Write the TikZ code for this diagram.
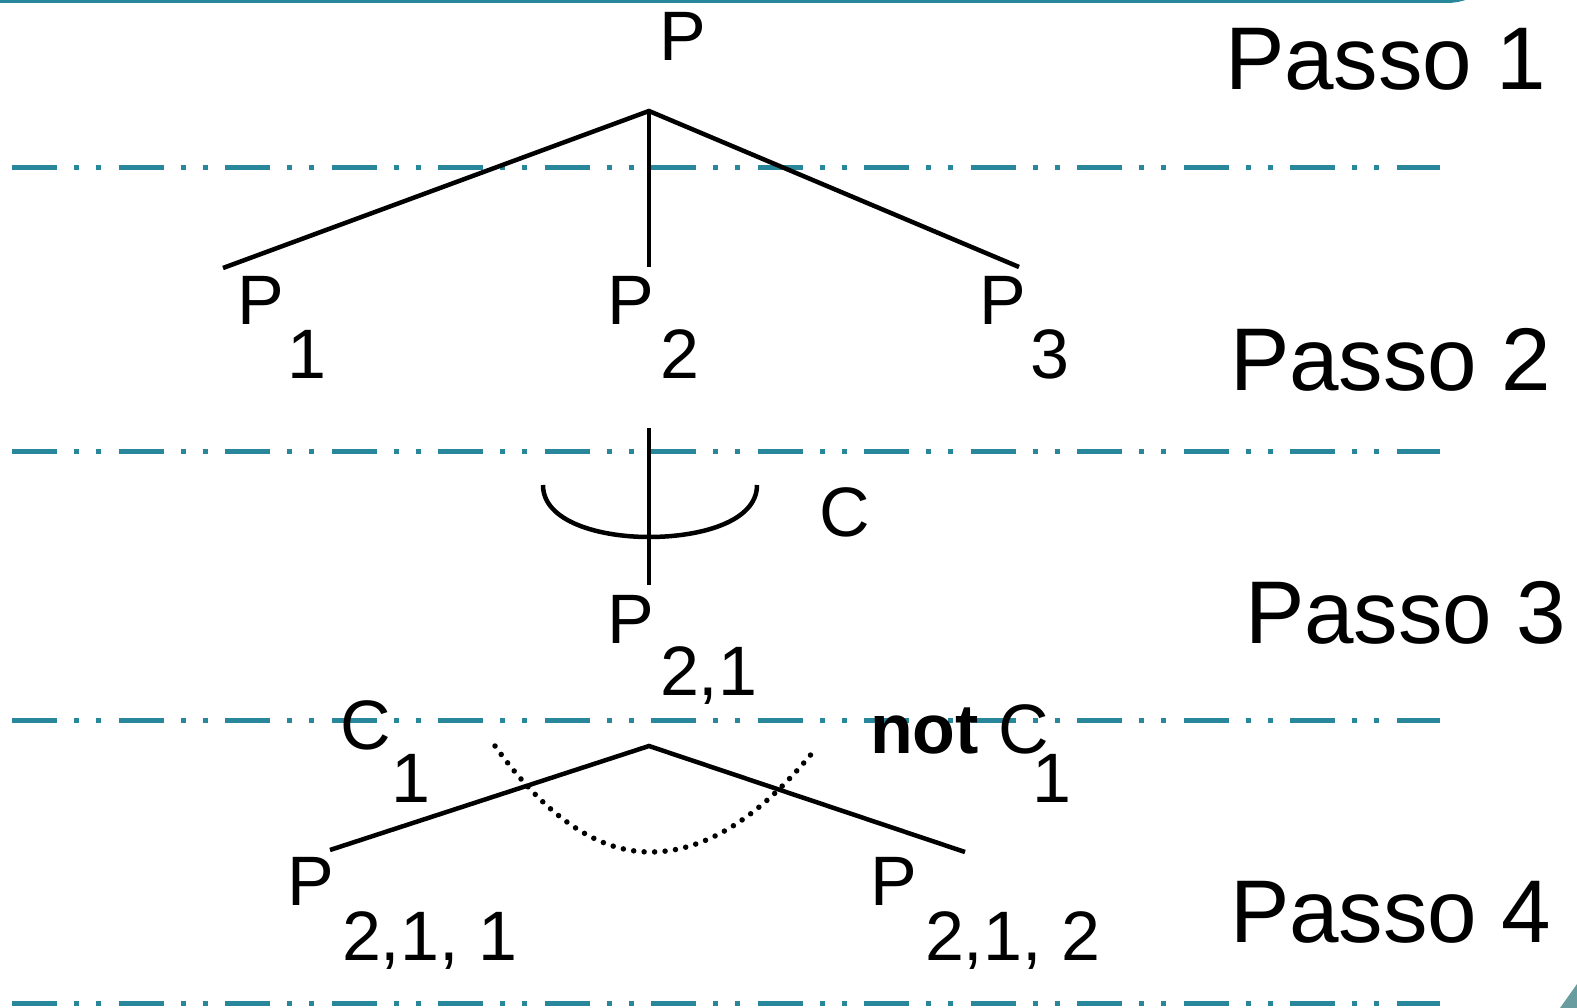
\documentclass[tikz,border=0pt]{standalone}
\usepackage{fontspec}
\setmainfont{Liberation Sans}
\definecolor{teal1}{RGB}{40,135,155}
\definecolor{teal2}{RGB}{105,156,158}
\begin{document}
\begin{tikzpicture}[x=1pt,y=-1pt,
  lbl/.style={anchor=base west,inner sep=0pt,outer sep=0pt,font=\fontsize{70}{84}\selectfont},
  passo/.style={anchor=base west,inner sep=0pt,outer sep=0pt,font=\fontsize{89}{106}\selectfont},
  sep/.style={draw=teal1,line width=5pt,dash pattern=on 45pt off 17pt on 5pt off 17pt on 5pt off 17.5pt},
  branch/.style={draw=black,line width=4.5pt},
  dotcurve/.style={draw=black,line width=5.5pt,line cap=round,dash pattern=on 0pt off 10.5pt}]
\useasboundingbox (0,0) rectangle (1577,1008);
% frame remnants
\draw[teal1,line width=4pt] (0,1) -- (1445,1) to[out=0,in=200] (1468,-3);
\fill[teal2] (1560,1008) -- (1577,984) -- (1577,1008) -- cycle;
% separators
\coordinate (s1a) at (12,168);  \coordinate (s1b) at (1440,168);
\coordinate (s2a) at (12,451);  \coordinate (s2b) at (1440,451);
\coordinate (s3a) at (12,720);  \coordinate (s3b) at (1440,720);
\coordinate (s4a) at (12,1003); \coordinate (s4b) at (1440,1003);
\draw[sep] (s1a) -- (s1b);
\draw[sep] (s2a) -- (s2b);
\draw[sep] (s3a) -- (s3b);
\draw[sep] (s4a) -- (s4b);
% step labels
\node[passo] (passo1) at (1225,90) {Passo 1};
\node[passo] (passo2) at (1230,390) {Passo 2};
\node[passo] (passo3) at (1245,643) {Passo 3};
\node[passo] (passo4) at (1230,942) {Passo 4};
% tree level 1
\node[lbl] (P) at (659,61) {P};
\coordinate (apex) at (649,111);
\coordinate (e1) at (223,268);
\coordinate (e2) at (649,267);
\coordinate (e3) at (1019,267);
\draw[branch] (e1) -- (apex) -- (e3);
\draw[branch] (apex) -- (e2);
\node[lbl] (P1) at (237,325) {P};
\node[lbl] (P1s) at (287,378) {1};
\node[lbl] (P2) at (607,325) {P};
\node[lbl] (P2s) at (660,378) {2};
\node[lbl] (P3) at (979,325) {P};
\node[lbl] (P3s) at (1030,378) {3};
% step 3
\coordinate (v1) at (649,428);
\coordinate (v2) at (649,585);
\draw[branch] (v1) -- (v2);
\coordinate (arcL) at (543,485);
\coordinate (arcM) at (649,537);
\coordinate (arcR) at (757,485);
\draw[black,line width=4.5pt] (arcL) .. controls (543,522) and (600,537) .. (arcM) .. controls (700,537) and (757,522) .. (arcR);
\node[lbl] (C) at (819,536) {C};
\node[lbl] (P21) at (607,643) {P};
\node[lbl] (P21s) at (660,695) {2,1};
% step 4
\coordinate (apex2) at (649,746);
\coordinate (f1) at (330,850);
\coordinate (f2) at (965,852);
\draw[branch] (f1) -- (apex2) -- (f2);
\coordinate (dL) at (495,746);
\coordinate (dM) at (650,852);
\coordinate (dR) at (813,752);
\draw[dotcurve] (dL) .. controls (546,817) and (598,852) .. (dM) .. controls (704,852) and (758,819) .. (dR);
\node[lbl] (C1) at (340,749) {C};
\node[lbl] (C1s) at (391,802) {1};
\node[lbl,font=\fontsize{70}{84}\selectfont\bfseries] (notw) at (870,753) {not};
\node[lbl] (C2) at (998,753) {C};
\node[lbl] (C2s) at (1032,802) {1};
\node[lbl] (P211) at (287,905) {P};
\node[lbl] (P211s) at (342,960) {2,1, 1};
\node[lbl] (P212) at (870,905) {P};
\node[lbl] (P212s) at (925,960) {2,1, 2};
\end{tikzpicture}
\end{document}
